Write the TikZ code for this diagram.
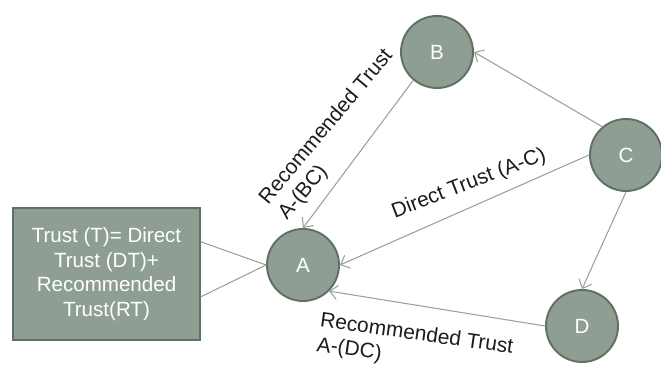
\documentclass[tikz,border=0pt]{standalone}
\usepackage{fontspec}
\setmainfont{Liberation Sans}
\usetikzlibrary{arrows.meta,calc,positioning}
\definecolor{nodegray}{RGB}{143,158,146}
\definecolor{rimgray}{RGB}{98,112,100}
\definecolor{edgegray}{RGB}{150,162,153}
\definecolor{labink}{RGB}{28,28,28}
\tikzset{
  peer/.style={circle, draw=rimgray, line width=1.1pt, fill=nodegray,
               minimum size=14.4mm, inner sep=0pt, text=white,
               font=\fontsize{11.7}{14}\selectfont},
  formula/.style={rectangle, draw=rimgray, line width=1.1pt, fill=nodegray,
                  minimum width=37.4mm, minimum height=26.4mm,
                  inner sep=2pt, align=center, text=white,
                  font=\fontsize{11.7}{14}\selectfont},
  link/.style={edgegray, line width=0.6pt},
  flow/.style={link, -{Straight Barb[length=1.5mm,width=2.8mm]}},
  edgelab/.style={text=labink, inner sep=0pt,
                  font=\fontsize{11.9}{14}\selectfont},
}
\begin{document}
\begin{tikzpicture}[x=1cm,y=1cm]
  \path[use as bounding box] (0,0) rectangle (13.22,7.34);

  % trust formula
  \node[formula] (T) at (2.13,1.86)
    {Trust (T)= Direct\\Trust (DT)+\\Recommended\\Trust(RT)};

  % peers
  \node[peer] (A) at (6.06,2.04) {A};
  \node[peer] (B) at (8.74,6.30) {B};
  \node[peer] (C) at (12.52,4.24) {C};
  \node[peer] (D) at (11.64,0.82) {D};

  \coordinate (Tup) at ($(T.north east)!0.26!(T.south east)$);
  \coordinate (Tdn) at ($(T.north east)!0.67!(T.south east)$);
  \draw[link] (Tup) -- (A.west);
  \draw[link] (Tdn) -- (A.west);

  \draw[flow] (B.230) -- (A.north);
  \draw[flow] (C.130) -- (B.east);
  \draw[flow] (C.west) -- (A.east);
  \draw[flow] (C.south) -- (D.north);
  \draw[flow] (D.west) -- (A.-45);

  % edge labels
  \node[edgelab, align=left, rotate=50] (LBA) at (6.72,4.64)
    {Recommended Trust\\A-(BC)};
  \node[edgelab, rotate=21] (LCA) at (9.38,3.66) {Direct Trust (A-C)};
  \node[edgelab, align=left, rotate=-8] (LDA) at (8.30,0.40)
    {Recommended Trust\\A-(DC)};
\end{tikzpicture}
\end{document}
